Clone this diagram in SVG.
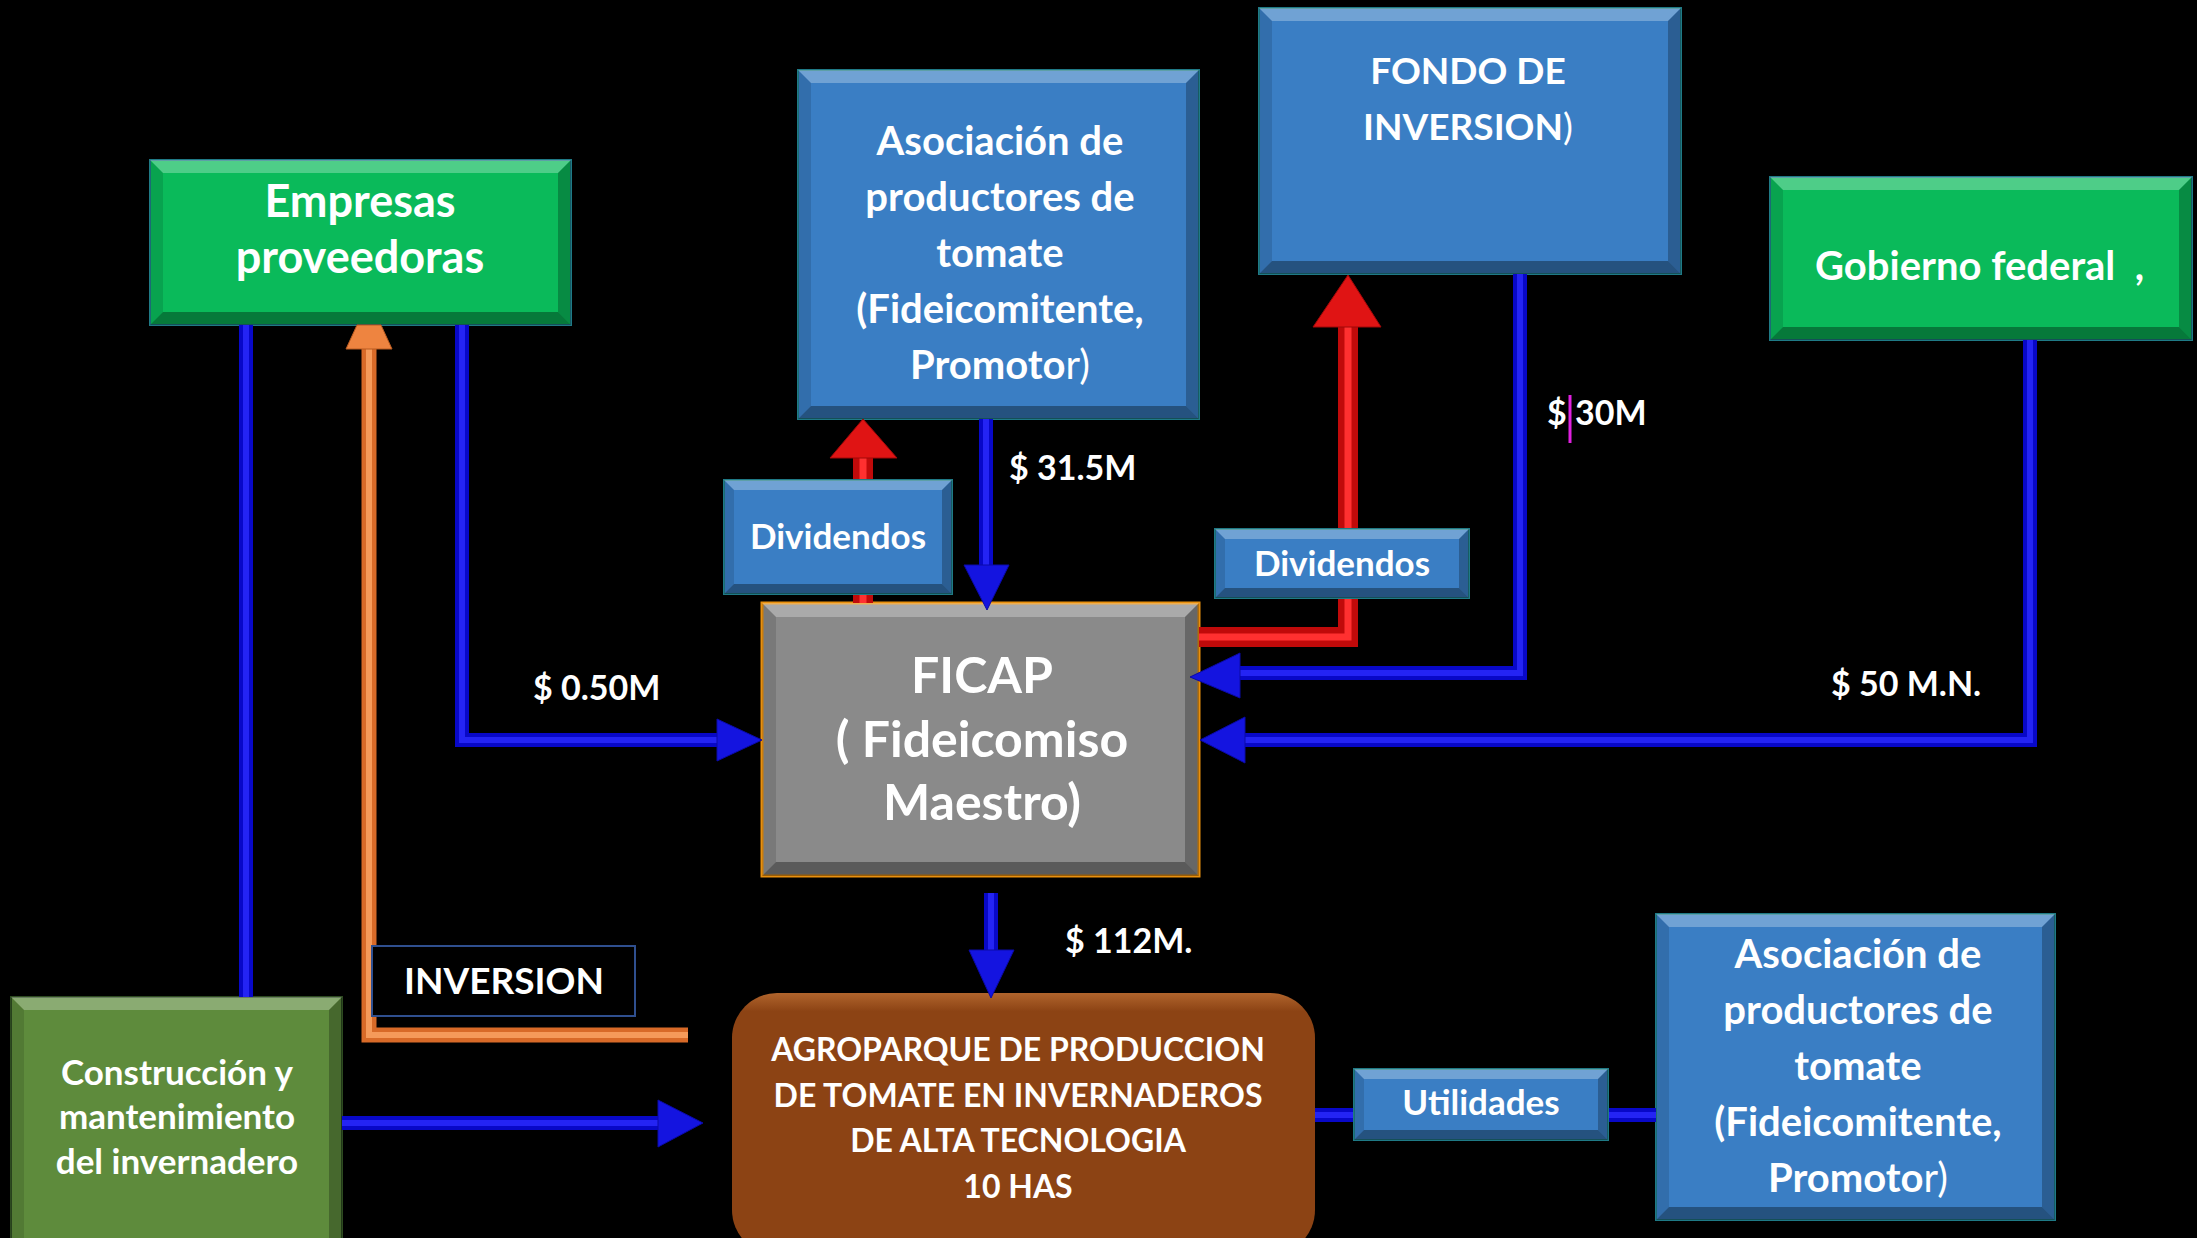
<svg xmlns="http://www.w3.org/2000/svg" width="2197" height="1238" viewBox="0 0 2197 1238">
<defs>
<style>
text{font-family:Lato,"Open Sans","Liberation Sans",sans-serif;font-weight:700;fill:#fff}
.c{text-anchor:middle}
.n{font-weight:400}
.blue{fill:#3A7EC4;stroke:#1F7A86;stroke-width:2}
.green{fill:#0ABA5A;stroke:#1F7A86;stroke-width:2}
.gray{fill:#8A8A8A;stroke:#E8900F;stroke-width:3}
.olive{fill:#5E8B3C;stroke:#2D4A20;stroke-width:2}
.bt{fill:#fff;fill-opacity:.28}
.bb{fill:#000;fill-opacity:.35}
.bs{fill:#000;fill-opacity:.12}
.br{fill:#000;fill-opacity:.25}
.wb{fill:none;stroke:#0808C8;stroke-width:14}
.wbh{fill:none;stroke:#2424F4;stroke-width:6}
.wr{fill:none;stroke:#C00A0A;stroke-width:20}
.wrh{fill:none;stroke:#FF3030;stroke-width:7}
.wo{fill:none;stroke:#D86A28;stroke-width:15}
.woh{fill:none;stroke:#F59A5A;stroke-width:6}
.ab{fill:#1414E0;stroke:#0A0AA8;stroke-width:1}
.ar{fill:#E01414;stroke:#A00808;stroke-width:1}
.ao{fill:#EE8440;stroke:#B85A20;stroke-width:1}
.amt{font-size:34px}
</style>
<linearGradient id="gbr" x1="0" y1="0" x2="0" y2="1">
<stop offset="0" stop-color="#B0642C"/>
<stop offset="0.07" stop-color="#8C4314"/>
<stop offset="0.93" stop-color="#8C4314"/>
<stop offset="1" stop-color="#6A300C"/>
</linearGradient>
</defs>
<rect x="0" y="0" width="2197" height="1238" fill="#000"/>

<g id="empresas">
<rect class="green" x="150" y="160" width="421" height="165"/>
<path class="bt" d="M150,160 L571,160 L558,173 L163,173Z"/>
<path class="bb" d="M150,325 L571,325 L558,312 L163,312Z"/>
<path class="bs" d="M150,160 L163,173 L163,312 L150,325Z"/>
<path class="br" d="M571,160 L558,173 L558,312 L571,325Z"/>
<text class="c" x="360" y="217" font-size="45">Empresas</text>
<text class="c" x="360" y="273" font-size="45">proveedoras</text>
</g>

<g id="asociacion-top">
<rect class="blue" x="798" y="70" width="401" height="349"/>
<path class="bt" d="M798,70 L1199,70 L1186,83 L811,83Z"/>
<path class="bb" d="M798,419 L1199,419 L1186,406 L811,406Z"/>
<path class="bs" d="M798,70 L811,83 L811,406 L798,419Z"/>
<path class="br" d="M1199,70 L1186,83 L1186,406 L1199,419Z"/>
<text class="c" x="1000" y="155" font-size="40">Asociación de</text>
<text class="c" x="1000" y="211" font-size="40">productores de</text>
<text class="c" x="1000" y="267" font-size="40">tomate</text>
<text class="c" x="1000" y="323" font-size="40">(Fideicomitente,</text>
<text class="c" x="1000" y="379" font-size="40">Promoto<tspan class="n">r)</tspan></text>
</g>

<g id="fondo">
<rect class="blue" x="1259" y="8" width="422" height="266"/>
<path class="bt" d="M1259,8 L1681,8 L1668,21 L1272,21Z"/>
<path class="bb" d="M1259,274 L1681,274 L1668,261 L1272,261Z"/>
<path class="bs" d="M1259,8 L1272,21 L1272,261 L1259,274Z"/>
<path class="br" d="M1681,8 L1668,21 L1668,261 L1681,274Z"/>
<text class="c" x="1468" y="84" font-size="37">FONDO DE</text>
<text class="c" x="1468" y="140" font-size="37">INVERSION<tspan class="n">)</tspan></text>
</g>

<g id="gobierno">
<rect class="green" x="1770" y="177" width="422" height="163"/>
<path class="bt" d="M1770,177 L2192,177 L2179,190 L1783,190Z"/>
<path class="bb" d="M1770,340 L2192,340 L2179,327 L1783,327Z"/>
<path class="bs" d="M1770,177 L1783,190 L1783,327 L1770,340Z"/>
<path class="br" d="M2192,177 L2179,190 L2179,327 L2192,340Z"/>
<text x="1815" y="280" font-size="40" xml:space="preserve">Gobierno federal  ,</text>
</g>

<g id="ficap">
<rect class="gray" x="762" y="603" width="437" height="273"/>
<path class="bt" d="M762,603 L1199,603 L1185,617 L776,617Z"/>
<path class="bb" d="M762,876 L1199,876 L1185,862 L776,862Z"/>
<path class="bs" d="M762,603 L776,617 L776,862 L762,876Z"/>
<path class="br" d="M1199,603 L1185,617 L1185,862 L1199,876Z"/>
<text class="c" x="982" y="693" font-size="50">FICAP</text>
<text class="c" x="982" y="757" font-size="50">( Fideicomiso</text>
<text class="c" x="982" y="820" font-size="50">Maestro)</text>
</g>

<g id="agroparque">
<rect x="732" y="993" width="583" height="262" rx="45" ry="45" fill="url(#gbr)"/>
<text class="c" x="1018" y="1061" font-size="32">AGROPARQUE DE PRODUCCION</text>
<text class="c" x="1018" y="1107" font-size="32">DE TOMATE EN INVERNADEROS</text>
<text class="c" x="1018" y="1152" font-size="32">DE ALTA TECNOLOGIA</text>
<text class="c" x="1018" y="1198" font-size="32">10 HAS</text>
</g>

<g id="construccion">
<rect class="olive" x="11" y="997" width="331" height="243"/>
<path class="bt" d="M11,997 L342,997 L329,1010 L24,1010Z"/>
<path class="bs" d="M11,997 L24,1010 L24,1240 L11,1240Z"/>
<path class="br" d="M342,997 L329,1010 L329,1240 L342,1240Z"/>
<text class="c" x="177" y="1085" font-size="35">Construcción y</text>
<text class="c" x="177" y="1129" font-size="35">mantenimiento</text>
<text class="c" x="177" y="1174" font-size="35">del invernadero</text>
</g>

<g id="asociacion-bottom">
<rect class="blue" x="1656" y="914" width="399" height="306"/>
<path class="bt" d="M1656,914 L2055,914 L2042,927 L1669,927Z"/>
<path class="bb" d="M1656,1220 L2055,1220 L2042,1207 L1669,1207Z"/>
<path class="bs" d="M1656,914 L1669,927 L1669,1207 L1656,1220Z"/>
<path class="br" d="M2055,914 L2042,927 L2042,1207 L2055,1220Z"/>
<text class="c" x="1858" y="968" font-size="40">Asociación de</text>
<text class="c" x="1858" y="1024" font-size="40">productores de</text>
<text class="c" x="1858" y="1080" font-size="40">tomate</text>
<text class="c" x="1858" y="1136" font-size="40">(Fideicomitente,</text>
<text class="c" x="1858" y="1192" font-size="40">Promoto<tspan class="n">r)</tspan></text>
</g>

<g id="connectors">
<path class="wb" d="M246,325 V997"/>
<path class="wbh" d="M246,325 V997"/>
<path class="wb" d="M462,325 V740 H720"/>
<path class="wbh" d="M462,325 V740 H720"/>
<polygon class="ab" points="717,719 717,761 762,740"/>
<path class="wo" d="M688,1035 H369 V345"/>
<path class="woh" d="M688,1035 H369 V345"/>
<polygon class="ao" points="346,349 392,349 381,325 357,325"/>
<path class="wb" d="M986,419 V568"/>
<path class="wbh" d="M986,419 V568"/>
<polygon class="ab" points="964,565 1009,565 987,610"/>
<path class="wr" d="M863,603 V455"/>
<path class="wrh" d="M863,603 V455"/>
<polygon class="ar" points="830,458 897,458 863,419"/>
<path class="wr" d="M1199,637 H1348 V325"/>
<path class="wrh" d="M1199,637 H1348 V325"/>
<polygon class="ar" points="1313,327 1381,327 1348,275"/>
<path class="wb" d="M1520,274 V673 H1236"/>
<path class="wbh" d="M1520,274 V673 H1236"/>
<polygon class="ab" points="1240,653 1240,698 1190,677"/>
<path class="wb" d="M2030,340 V740 H1242"/>
<path class="wbh" d="M2030,340 V740 H1242"/>
<polygon class="ab" points="1245,717 1245,763 1200,740"/>
<path class="wb" d="M991,893 V953"/>
<path class="wbh" d="M991,893 V953"/>
<polygon class="ab" points="969,950 1014,950 991,998"/>
<path class="wb" d="M342,1123 H661"/>
<path class="wbh" d="M342,1123 H661"/>
<polygon class="ab" points="658,1100 658,1147 703,1123"/>
<path class="wb" d="M1315,1115 H1656"/>
<path class="wbh" d="M1315,1115 H1656"/>
</g>

<g id="dividendos-left">
<rect class="blue" x="724" y="480" width="228" height="114"/>
<path class="bt" d="M724,480 L952,480 L942,490 L734,490Z"/>
<path class="bb" d="M724,594 L952,594 L942,584 L734,584Z"/>
<path class="bs" d="M724,480 L734,490 L734,584 L724,594Z"/>
<path class="br" d="M952,480 L942,490 L942,584 L952,594Z"/>
<text class="c" x="838" y="549" font-size="35">Dividendos</text>
</g>

<g id="dividendos-right">
<rect class="blue" x="1215" y="529" width="254" height="69"/>
<path class="bt" d="M1215,529 L1469,529 L1459,539 L1225,539Z"/>
<path class="bb" d="M1215,598 L1469,598 L1459,588 L1225,588Z"/>
<path class="bs" d="M1215,529 L1225,539 L1225,588 L1215,598Z"/>
<path class="br" d="M1469,529 L1459,539 L1459,588 L1469,598Z"/>
<text class="c" x="1342" y="576" font-size="35">Dividendos</text>
</g>

<g id="utilidades">
<rect class="blue" x="1354" y="1069" width="254" height="71"/>
<path class="bt" d="M1354,1069 L1608,1069 L1598,1079 L1364,1079Z"/>
<path class="bb" d="M1354,1140 L1608,1140 L1598,1130 L1364,1130Z"/>
<path class="bs" d="M1354,1069 L1364,1079 L1364,1130 L1354,1140Z"/>
<path class="br" d="M1608,1069 L1598,1079 L1598,1130 L1608,1140Z"/>
<text class="c" x="1481" y="1115" font-size="35">Utilidades</text>
</g>

<g id="inversion">
<rect x="372" y="946" width="263" height="70" fill="#000" stroke="#2F4F8F" stroke-width="2"/>
<text class="c" x="504" y="994" font-size="37">INVERSION</text>
</g>

<g id="labels">
<text class="amt" x="1009" y="480">$ 31.5M</text>
<text class="amt" x="1547" y="425">$ 30M</text>
<line x1="1570" y1="395" x2="1570" y2="443" stroke="#E020E0" stroke-width="3"/>
<text class="amt" x="1831" y="696">$ 50 M.N.</text>
<text class="amt" x="533" y="700">$ 0.50M</text>
<text class="amt" x="1065" y="953">$ 112M.</text>
</g>
</svg>
